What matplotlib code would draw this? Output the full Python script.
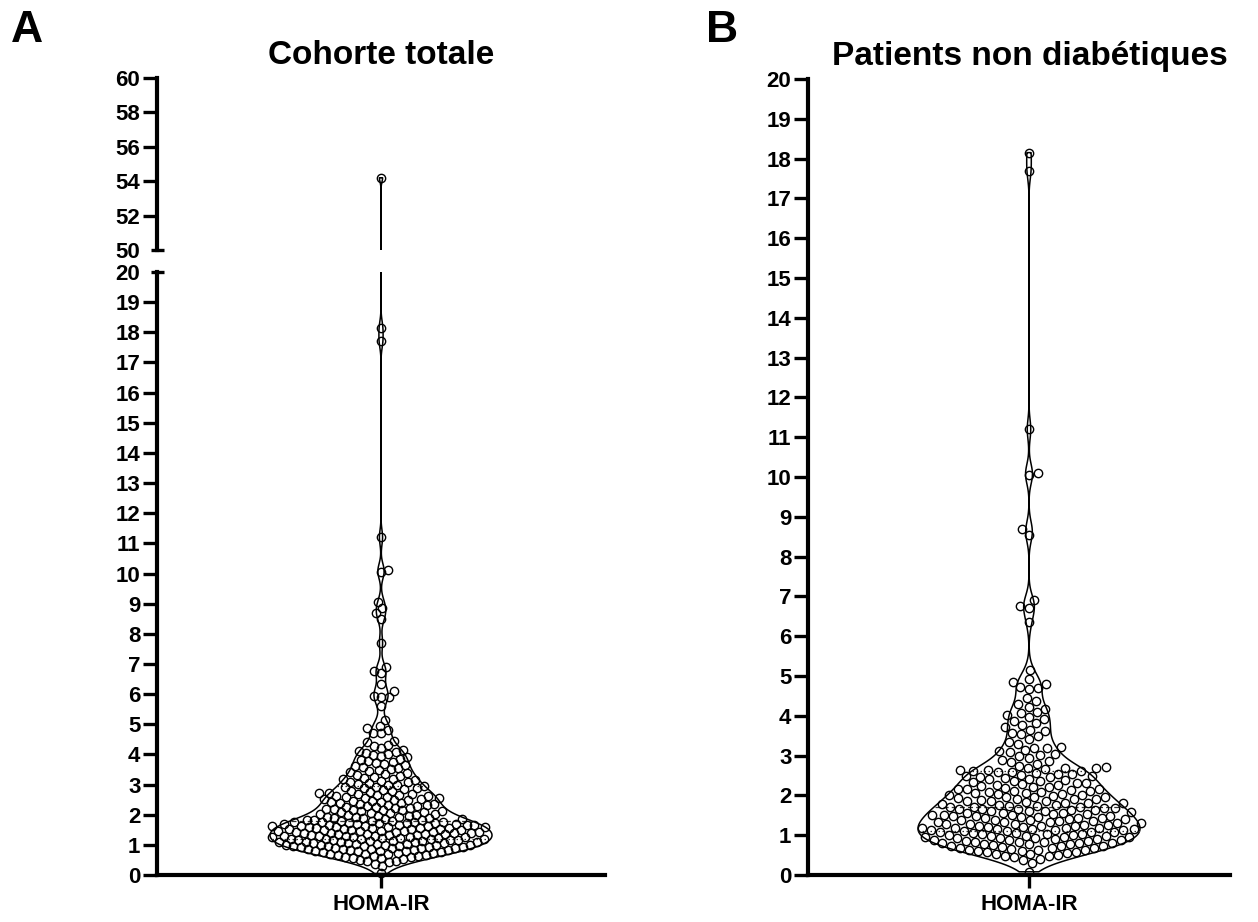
import numpy as np
import matplotlib
matplotlib.use('Agg')
import matplotlib.pyplot as plt
from matplotlib.lines import Line2D

plt.rcParams['font.family'] = ['Liberation Sans', 'DejaVu Sans']
plt.rcParams['font.weight'] = 'bold'

# HOMA-IR values, total cohort
homa_total = [
    0.05,
    0.30, 0.38,
    0.42, 0.45, 0.48, 0.50, 0.53, 0.55, 0.58,
    0.60, 0.61, 0.62, 0.64, 0.65, 0.66, 0.68, 0.69, 0.70, 0.72, 0.73, 0.75, 0.76, 0.78, 0.79,
    0.80, 0.81, 0.82, 0.83, 0.84, 0.85, 0.86, 0.87, 0.88, 0.89, 0.90, 0.91, 0.92, 0.93, 0.94,
    0.95, 0.96, 0.96, 0.97, 0.98, 0.99,
    1.00, 1.01, 1.01, 1.02, 1.03, 1.04, 1.05, 1.06, 1.07, 1.08, 1.09, 1.10, 1.10, 1.11, 1.12,
    1.13, 1.14, 1.15, 1.16, 1.16, 1.17, 1.18, 1.19, 1.19,
    1.20, 1.21, 1.22, 1.23, 1.24, 1.25, 1.25, 1.26, 1.27, 1.28, 1.29, 1.30, 1.31, 1.32, 1.33,
    1.34, 1.35, 1.35, 1.36, 1.37, 1.38, 1.39,
    1.40, 1.40, 1.41, 1.42, 1.43, 1.44, 1.45, 1.45, 1.46, 1.47, 1.48, 1.49, 1.50, 1.51, 1.52,
    1.53, 1.54, 1.55, 1.55, 1.56, 1.57, 1.58, 1.59, 1.59,
    1.60, 1.61, 1.62, 1.63, 1.64, 1.65, 1.65, 1.66, 1.67, 1.68, 1.69, 1.70, 1.71, 1.72, 1.73,
    1.74, 1.75, 1.75, 1.76, 1.77, 1.78, 1.79,
    1.80, 1.81, 1.82, 1.84, 1.85, 1.86, 1.88, 1.89, 1.90, 1.92, 1.93, 1.94, 1.96, 1.97, 1.99,
    2.00, 2.02, 2.03, 2.05, 2.06, 2.08, 2.09, 2.11, 2.12, 2.14, 2.15, 2.17, 2.19,
    2.20, 2.22, 2.23, 2.25, 2.27, 2.28, 2.30, 2.32, 2.33, 2.35, 2.37, 2.39,
    2.40, 2.42, 2.43, 2.45, 2.47, 2.48, 2.50, 2.52, 2.53, 2.55, 2.57, 2.59,
    2.60, 2.62, 2.63, 2.65, 2.66, 2.68, 2.70, 2.71, 2.72, 2.75, 2.78,
    2.80, 2.82, 2.85, 2.87, 2.89, 2.91, 2.93, 2.95, 2.98,
    3.00, 3.03, 3.05, 3.08, 3.10, 3.13, 3.16, 3.18,
    3.20, 3.23, 3.25, 3.28, 3.31, 3.34, 3.37,
    3.41, 3.44, 3.48, 3.51, 3.55, 3.58,
    3.61, 3.64, 3.68, 3.71, 3.75, 3.78,
    3.82, 3.86, 3.90, 3.94, 3.98,
    4.00, 4.03, 4.07, 4.12, 4.16,
    4.22, 4.28, 4.32,
    4.42, 4.45,
    4.70, 4.72,
    4.82, 4.87, 4.95,
    5.15,
    5.60, 5.90, 5.92, 5.95, 6.10, 6.35, 6.70, 6.75, 6.90, 7.70,
    8.50, 8.70, 8.85, 9.05, 10.05, 10.10, 11.20, 17.70, 18.15, 54.20,
]

# HOMA-IR values, non-diabetic patients
homa_nondiab = [
    0.08,
    0.30, 0.38,
    0.40, 0.44, 0.47, 0.48, 0.50, 0.52, 0.53, 0.55, 0.57, 0.59,
    0.60, 0.61, 0.62, 0.63, 0.64, 0.66, 0.67, 0.68, 0.69, 0.70, 0.72, 0.73, 0.74, 0.75, 0.77,
    0.78, 0.79,
    0.80, 0.80, 0.81, 0.82, 0.83, 0.84, 0.85, 0.86, 0.87, 0.88, 0.89, 0.90, 0.91, 0.92, 0.93,
    0.94, 0.95, 0.95, 0.96, 0.97, 0.98, 0.99,
    1.00, 1.01, 1.02, 1.03, 1.04, 1.05, 1.06, 1.07, 1.08, 1.09, 1.10, 1.11, 1.12, 1.13, 1.14,
    1.15, 1.15, 1.16, 1.17, 1.18, 1.19, 1.19,
    1.20, 1.21, 1.22, 1.23, 1.24, 1.25, 1.26, 1.27, 1.28, 1.29, 1.30, 1.31, 1.32, 1.33, 1.34,
    1.35, 1.36, 1.37, 1.38, 1.39,
    1.40, 1.41, 1.42, 1.43, 1.44, 1.45, 1.46, 1.47, 1.48, 1.49, 1.50, 1.51, 1.52, 1.53, 1.54,
    1.55, 1.56, 1.57, 1.58,
    1.60, 1.61, 1.62, 1.63, 1.64, 1.65, 1.66, 1.67, 1.68, 1.69, 1.70, 1.71, 1.72, 1.73, 1.74,
    1.75, 1.77, 1.79,
    1.80, 1.81, 1.82, 1.83, 1.85, 1.86, 1.87, 1.88, 1.90, 1.91, 1.92, 1.93, 1.95, 1.96, 1.97, 1.99,
    2.00, 2.01, 2.03, 2.04, 2.05, 2.07, 2.08, 2.09, 2.11, 2.12, 2.13, 2.15, 2.16, 2.17, 2.19,
    2.20, 2.22, 2.23, 2.25, 2.27, 2.28, 2.30, 2.32, 2.33, 2.35, 2.37, 2.39,
    2.40, 2.42, 2.43, 2.45, 2.47, 2.48, 2.50, 2.52, 2.53, 2.55, 2.57, 2.59,
    2.60, 2.61, 2.62, 2.63, 2.65, 2.66, 2.68, 2.69, 2.70, 2.72, 2.75,
    2.80, 2.83, 2.86, 2.90, 2.94, 2.98,
    3.02, 3.05, 3.08, 3.12, 3.15, 3.18,
    3.20, 3.22, 3.30, 3.35,
    3.42, 3.48, 3.55, 3.58,
    3.62, 3.65, 3.72, 3.78,
    3.82, 3.88, 3.92, 3.98,
    4.02, 4.08, 4.10, 4.18,
    4.22, 4.30, 4.38,
    4.45,
    4.68, 4.70, 4.72,
    4.80, 4.86, 4.92,
    5.15,
    6.35, 6.70, 6.75, 6.90, 8.55, 8.70, 10.05, 10.10, 11.20, 17.70, 18.15,
]

titles = ['Cohorte totale', 'Patients non diabétiques']
panel_letters = ['A', 'B']
x_label = 'HOMA-IR'

W, H = 1258, 922
fig = plt.figure(figsize=(W / 100, H / 100), dpi=100)


def fbox(l, t, r, b):
    return [l / W, 1 - b / H, (r - l) / W, (b - t) / H]


def kde_halfwidth(vals, grid, bw, max_half):
    d = np.exp(-0.5 * ((grid[:, None] - vals[None, :]) / bw) ** 2).sum(axis=1)
    return d / d.max() * max_half


def beeswarm(vals, px_per_unit, dist):
    # classic swarm: each point goes as close to the centre as it can without overlap
    ys = np.sort(np.asarray(vals, dtype=float))
    ypx = ys * px_per_unit
    xs = np.zeros_like(ys)
    side = 1
    for i in range(len(ys)):
        ivs = []
        for j in range(i - 1, -1, -1):
            dy = ypx[i] - ypx[j]
            if dy >= dist:
                break
            h = np.sqrt(dist ** 2 - dy ** 2)
            ivs.append((xs[j] - h, xs[j] + h))
        cands = [0.0] + [a for a, b in ivs] + [b for a, b in ivs]
        ok = [c for c in cands if all(not (a + 1e-6 < c < b - 1e-6) for a, b in ivs)]
        best = min(ok, key=lambda c: (round(abs(c), 4), -c * side))
        xs[i] = best
        if best != 0:
            side = -side
    return ys, xs


def style_axis(ax):
    for s in ['top', 'right']:
        ax.spines[s].set_visible(False)
    ax.spines['left'].set_linewidth(3)
    ax.spines['bottom'].set_linewidth(3)
    ax.tick_params(axis='y', length=10, width=2.4, labelsize=16, pad=2)
    ax.tick_params(axis='x', length=9, width=2.4, labelsize=16, pad=5)


def draw_violin(axes_list, vals, bw, max_half, px_per_unit, dist):
    vals = np.asarray(vals)
    grid = np.linspace(vals.min(), vals.max(), 12000)
    hw = kde_halfwidth(vals, grid, bw, max_half)
    for ax in axes_list:
        ax.fill_betweenx(grid, -hw, hw, facecolor='none', edgecolor='black', lw=1.1, zorder=2)
    q1, med, q3 = np.percentile(vals, [25, 50, 75])
    ax0 = axes_list[-1]
    for q, ls in [(q1, (0, (1.2, 2))), (med, (0, (4, 2.5))), (q3, (0, (1.2, 2)))]:
        w = np.interp(q, grid, hw)
        ax0.plot([-w, w], [q, q], color='#333333', lw=0.9, ls=ls, zorder=2)
    ys, xs = beeswarm(vals, px_per_unit, dist)
    for ax in axes_list:
        lo, hi = ax.get_ylim()
        m = (ys >= lo) & (ys <= hi)
        ax.plot(xs[m], ys[m], 'o', ms=6.0, mfc='none', mec='black', mew=1.0,
                zorder=3, clip_on=False)


# ---- Panel A (broken axis) ----
axA = fig.add_axes(fbox(157, 272, 605, 875))
axA_top = fig.add_axes(fbox(157, 78, 605, 250))
axA.set_xlim(-224, 224)
axA_top.set_xlim(-224, 224)
axA.set_ylim(0, 20)
axA_top.set_ylim(50, 60)
style_axis(axA)
style_axis(axA_top)
axA_top.spines['bottom'].set_visible(False)
axA_top.set_xticks([])
axA.set_yticks(np.arange(0, 21, 1))
axA_top.set_yticks(np.arange(50, 61, 2))
axA.get_yaxis().get_major_ticks()[-1].tick1line.set_visible(False)
axA_top.get_yaxis().get_major_ticks()[0].tick1line.set_visible(False)
axA.set_xticks([0])
axA.set_xticklabels([x_label])

draw_violin([axA_top, axA], homa_total, bw=0.25, max_half=111, px_per_unit=30.15, dist=7.6)

# break caps on the y axis
for ypx in [250, 272]:
    fig.add_artist(Line2D([151 / W, 164 / W], [1 - ypx / H, 1 - ypx / H],
                          lw=2.4, color='black', solid_capstyle='butt'))

# ---- Panel B ----
axB = fig.add_axes(fbox(808, 79, 1230, 875))
axB.set_xlim(-221, 201)
axB.set_ylim(0, 20)
style_axis(axB)
axB.set_yticks(np.arange(0, 21, 1))
axB.set_xticks([0])
axB.set_xticklabels([x_label])

draw_violin([axB], homa_nondiab, bw=0.25, max_half=111, px_per_unit=39.8, dist=9.2)

# titles and panel letters
fig.text(381 / W, 1 - 55 / H, titles[0], ha='center', va='center', fontsize=24, fontweight='bold')
fig.text(1030 / W, 1 - 57 / H, titles[1], ha='center', va='center', fontsize=24, fontweight='bold')
fig.text(11 / W, 1 - 31 / H, panel_letters[0], ha='left', va='center', fontsize=32, fontweight='bold')
fig.text(706 / W, 1 - 31 / H, panel_letters[1], ha='left', va='center', fontsize=32, fontweight='bold')

fig.savefig('out.png', dpi=100, facecolor='white')
